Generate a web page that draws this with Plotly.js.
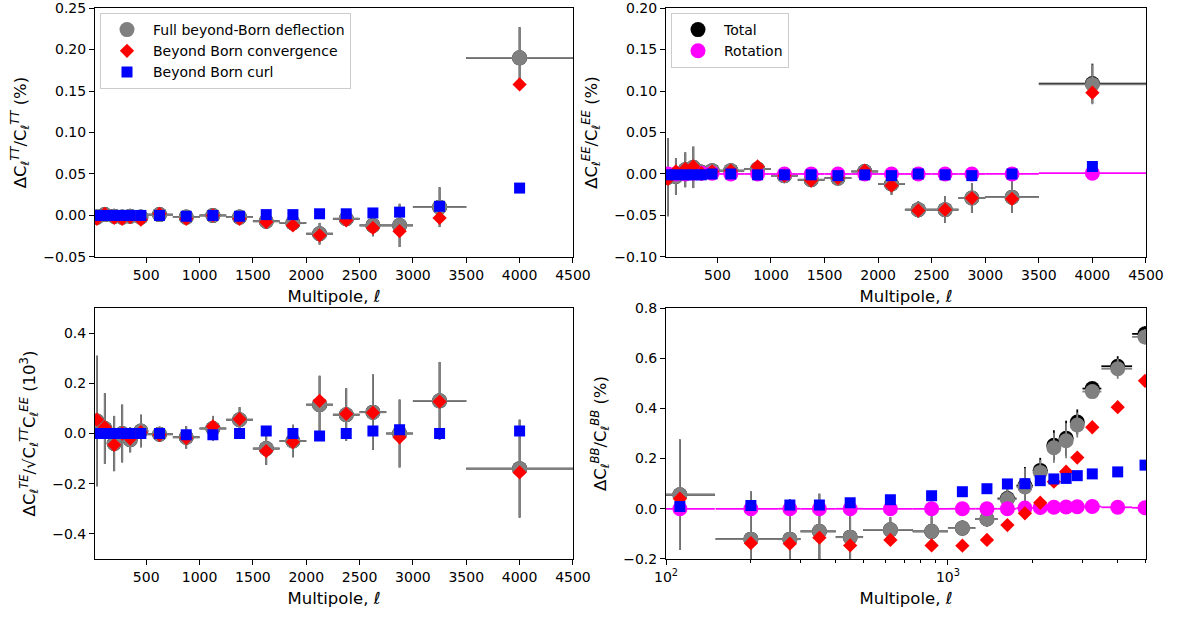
<!DOCTYPE html>
<html>
<head>
<meta charset="utf-8">
<script src="https://cdn.plot.ly/plotly-3.0.1.min.js"></script>
<style>html,body{margin:0;padding:0;background:#fff;}#chart{width:1180px;height:623px;}</style>
</head>
<body>
<div id="chart"></div>
<script>
// ---- bins (linear panels) ----
const ellLin = [38, 112, 200, 275, 350, 450, 625, 875, 1125, 1375, 1625, 1875, 2125, 2375, 2625, 2875, 3250, 4000];
const halfLin = [36, 37, 50, 25, 50, 50, 125, 125, 125, 125, 125, 125, 125, 125, 125, 125, 250, 500];
// ---- bins (BB, log panel) ----
const ellBB = [112, 200, 275, 350, 450, 625, 875, 1125, 1375, 1625, 1875, 2125, 2375, 2625, 2875, 3250, 4000, 5000];
const halfBB = [37, 50, 25, 50, 50, 125, 125, 125, 125, 125, 125, 125, 125, 125, 125, 250, 500, 500];

// ---- TT (%) ----
const ttTotal = [-0.002, 0.001, -0.001, -0.002, -0.001, -0.002, 0.001, -0.002, 0.000, -0.002, -0.007, -0.009, -0.022, -0.004, -0.012, -0.012, 0.010, 0.190];
const ttFull  = [-0.002, 0.001, -0.001, -0.002, -0.001, -0.002, 0.001, -0.002, 0.000, -0.002, -0.007, -0.009, -0.022, -0.004, -0.012, -0.012, 0.010, 0.190];
const ttErr   = [0.004, 0.003, 0.003, 0.003, 0.003, 0.003, 0.003, 0.003, 0.003, 0.004, 0.005, 0.008, 0.013, 0.008, 0.013, 0.026, 0.024, 0.037];
const ttConv  = [-0.004, 0.002, -0.003, -0.004, -0.002, -0.005, 0.002, -0.004, 0.000, -0.004, -0.008, -0.012, -0.024, -0.006, -0.015, -0.019, -0.003, 0.158];
const ttCurl  = [0.000, 0.000, 0.000, 0.000, 0.000, 0.000, 0.000, -0.001, 0.000, -0.001, 0.001, 0.001, 0.002, 0.002, 0.003, 0.004, 0.011, 0.033];

// ---- EE (%) ----
const eeTotal = [-0.004, -0.003, 0.005, 0.008, 0.002, 0.004, 0.004, 0.006, -0.002, -0.007, -0.005, 0.003, -0.012, -0.043, -0.043, -0.029, -0.028, 0.109];
const eeFull  = [-0.004, -0.003, 0.005, 0.008, 0.002, 0.004, 0.004, 0.006, -0.002, -0.007, -0.005, 0.003, -0.012, -0.043, -0.043, -0.029, -0.028, 0.108];
const eeErr   = [0.047, 0.022, 0.021, 0.025, 0.010, 0.008, 0.006, 0.006, 0.005, 0.006, 0.006, 0.007, 0.013, 0.010, 0.016, 0.018, 0.019, 0.024];
const eeConv  = [-0.006, 0.003, 0.006, 0.009, 0.001, 0.003, 0.004, 0.009, -0.002, -0.008, -0.005, 0.004, -0.014, -0.044, -0.043, -0.029, -0.030, 0.098];
const eeCurl  = [-0.001, -0.001, -0.001, -0.001, -0.001, 0.000, 0.000, -0.001, -0.001, -0.001, -0.002, -0.001, -0.002, 0.000, -0.001, -0.002, 0.000, 0.009];
const eeRot   = [0.000, 0.000, 0.000, 0.001, 0.001, 0.001, 0.000, 0.000, 0.000, 0.000, 0.000, 0.000, 0.000, 0.000, 0.000, 0.000, 0.000, 0.001];

// ---- TE (10^3) ----
const teTotal = [0.050, 0.020, -0.040, 0.000, -0.025, 0.010, -0.003, -0.015, 0.020, 0.055, -0.060, -0.030, 0.115, 0.075, 0.085, 0.000, 0.130, -0.140];
const teFull  = [0.050, 0.020, -0.040, 0.000, -0.025, 0.010, -0.003, -0.015, 0.020, 0.055, -0.060, -0.030, 0.115, 0.075, 0.085, 0.000, 0.130, -0.140];
const teErr   = [0.260, 0.140, 0.110, 0.115, 0.050, 0.065, 0.030, 0.045, 0.050, 0.050, 0.065, 0.065, 0.115, 0.105, 0.150, 0.135, 0.155, 0.195];
const teConv  = [0.055, 0.025, -0.045, 0.000, -0.020, 0.005, -0.005, -0.018, 0.028, 0.057, -0.070, -0.034, 0.130, 0.078, 0.083, -0.015, 0.127, -0.155];
const teCurl  = [0.000, 0.000, 0.000, 0.000, 0.000, 0.000, 0.000, -0.005, -0.005, 0.000, 0.010, 0.000, -0.010, 0.000, 0.010, 0.015, 0.000, 0.010];

// ---- BB (%) ----
const bbTotal = [0.056, -0.121, -0.121, -0.090, -0.113, -0.084, -0.090, -0.077, -0.041, 0.041, 0.092, 0.153, 0.253, 0.281, 0.346, 0.479, 0.568, 0.697];
const bbFull  = [0.056, -0.121, -0.121, -0.090, -0.113, -0.084, -0.090, -0.077, -0.041, 0.038, 0.087, 0.145, 0.243, 0.271, 0.334, 0.467, 0.558, 0.685];
const bbErr   = [0.220, 0.190, 0.160, 0.150, 0.100, 0.050, 0.060, 0.030, 0.030, 0.040, 0.075, 0.050, 0.060, 0.070, 0.050, 0.020, 0.040, 0.030];
const bbConv  = [0.040, -0.137, -0.139, -0.115, -0.146, -0.124, -0.146, -0.147, -0.124, -0.065, -0.018, 0.024, 0.108, 0.148, 0.204, 0.325, 0.405, 0.510];
const bbCurl  = [0.009, 0.013, 0.015, 0.015, 0.024, 0.036, 0.052, 0.068, 0.080, 0.099, 0.100, 0.112, 0.119, 0.121, 0.132, 0.139, 0.147, 0.174];
const bbRot   = [0.000, 0.000, 0.000, 0.000, 0.000, 0.000, 0.000, 0.000, 0.000, 0.000, 0.003, 0.005, 0.006, 0.007, 0.008, 0.009, 0.006, 0.004];

const GRAY = '#808080', RED = '#ff0000', BLUE = '#0000ff', MAG = '#ff00ff', BLACK = '#000000';
const SZ_C = 15, SZ_D = 11, SZ_S = 11;

function errs(arr, col) { return {type: 'data', array: arr, color: col, thickness: 1.8, width: 0}; }

function panel(xa, ya, ell, half, tot, full, err, conv, curl, rot, legendFull, legendTot) {
  const tr = [];
  tr.push({x: ell, y: tot, xaxis: xa, yaxis: ya, mode: 'markers', type: 'scatter', name: 'Total',
    marker: {symbol: 'circle', size: SZ_C, color: BLACK}, error_y: errs(err, BLACK), error_x: errs(half, BLACK),
    showlegend: !!legendTot, legend: 'legend2'});
  tr.push({x: ell, y: full, xaxis: xa, yaxis: ya, mode: 'markers', type: 'scatter', name: 'Full beyond-Born deflection',
    marker: {symbol: 'circle', size: SZ_C, color: GRAY}, error_y: errs(err, GRAY), error_x: errs(half, GRAY),
    showlegend: !!legendFull, legend: 'legend'});
  if (rot) {
    tr.push({x: ell, y: rot, xaxis: xa, yaxis: ya, mode: 'markers', type: 'scatter', name: 'Rotation',
      marker: {symbol: 'circle', size: SZ_C, color: MAG}, error_x: errs(half, MAG),
      showlegend: !!legendTot, legend: 'legend2'});
  }
  tr.push({x: ell, y: conv, xaxis: xa, yaxis: ya, mode: 'markers', type: 'scatter', name: 'Beyond Born convergence',
    marker: {symbol: 'diamond', size: SZ_D, color: RED}, showlegend: !!legendFull, legend: 'legend'});
  tr.push({x: ell, y: curl, xaxis: xa, yaxis: ya, mode: 'markers', type: 'scatter', name: 'Beyond Born curl',
    marker: {symbol: 'square', size: SZ_S, color: BLUE}, showlegend: !!legendFull, legend: 'legend'});
  return tr;
}

const data = [].concat(
  panel('x', 'y', ellLin, halfLin, ttTotal, ttFull, ttErr, ttConv, ttCurl, null, true, false),
  panel('x2', 'y2', ellLin, halfLin, eeTotal, eeFull, eeErr, eeConv, eeCurl, eeRot, false, true),
  panel('x3', 'y3', ellLin, halfLin, teTotal, teFull, teErr, teConv, teCurl, null, false, false),
  panel('x4', 'y4', ellBB, halfBB, bbTotal, bbFull, bbErr, bbConv, bbCurl, bbRot, false, false)
);

const FONT = 'DejaVu Sans, sans-serif';
const tickFont = {family: FONT, size: 14, color: '#000'};
const titleFont = {family: FONT, size: 16.5, color: '#000'};
const XL = [95 / 1180, 573 / 1180], XR = [666 / 1180, 1146 / 1180];
const YT = [1 - 257 / 623, 1 - 8 / 623], YB = [1 - 559 / 623, 1 - 308 / 623];

function ax(extra) {
  return Object.assign({
    showline: true, linecolor: '#000', linewidth: 1, mirror: true,
    ticks: 'outside', ticklen: 5, tickwidth: 1, tickcolor: '#000',
    showgrid: false, zeroline: false, tickfont: tickFont, ticklabeloverflow: 'allow'
  }, extra);
}
const xTitle = {text: 'Multipole, <i>ℓ</i>', font: titleFont, standoff: 8};
const linX = {range: [20, 4500.5], tickmode: 'linear', tick0: 500, dtick: 500, title: xTitle};

const layout = {
  width: 1180, height: 623,
  margin: {l: 0, r: 0, t: 0, b: 0},
  paper_bgcolor: '#fff', plot_bgcolor: '#fff',
  font: {family: FONT, color: '#000'},
  xaxis: ax(Object.assign({domain: XL, anchor: 'y'}, linX)),
  yaxis: ax({domain: YT, anchor: 'x', range: [-0.0501, 0.2501], dtick: 0.05, tick0: 0, tickformat: '.2f',
    title: {text: 'ΔC<sub><i>ℓ</i></sub><sup><i>TT</i></sup>/C<sub><i>ℓ</i></sub><sup><i>TT</i></sup> (%)', font: titleFont, standoff: 12}}),
  xaxis2: ax(Object.assign({domain: XR, anchor: 'y2'}, linX)),
  yaxis2: ax({domain: YT, anchor: 'x2', range: [-0.1001, 0.2001], dtick: 0.05, tick0: 0, tickformat: '.2f',
    title: {text: 'ΔC<sub><i>ℓ</i></sub><sup><i>EE</i></sup>/C<sub><i>ℓ</i></sub><sup><i>EE</i></sup> (%)', font: titleFont, standoff: 12}}),
  xaxis3: ax(Object.assign({domain: XL, anchor: 'y3'}, linX)),
  yaxis3: ax({domain: YB, anchor: 'x3', range: [-0.5, 0.5], dtick: 0.2, tick0: 0, tickformat: '.1f',
    title: {text: 'ΔC<sub><i>ℓ</i></sub><sup><i>TE</i></sup>/√C<sub><i>ℓ</i></sub><sup><i>TT</i></sup>C<sub><i>ℓ</i></sub><sup><i>EE</i></sup> (10<sup>3</sup>)', font: titleFont, standoff: 12}}),
  xaxis4: ax({domain: XR, anchor: 'y4', type: 'log', range: [2, Math.log10(5040)],
    tickmode: 'array', tickvals: [100, 1000], ticktext: ['10<sup>2</sup>', '10<sup>3</sup>'],
    minor: {tickmode: 'array', tickvals: [200, 300, 400, 500, 600, 700, 800, 900, 2000, 3000, 4000, 5000], ticks: 'outside', ticklen: 3, tickcolor: '#000', showgrid: false},
    title: xTitle}),
  yaxis4: ax({domain: YB, anchor: 'x4', range: [-0.2001, 0.8001], dtick: 0.2, tick0: 0, tickformat: '.1f',
    title: {text: 'ΔC<sub><i>ℓ</i></sub><sup><i>BB</i></sup>/C<sub><i>ℓ</i></sub><sup><i>BB</i></sup> (%)', font: titleFont, standoff: 12}}),
  legend: {x: 100 / 1180, y: 1 - 13 / 623, xanchor: 'left', yanchor: 'top', bgcolor: 'rgba(255,255,255,0.9)',
    bordercolor: '#cccccc', borderwidth: 1, font: {family: FONT, size: 14, color: '#000'}, tracegroupgap: 0, itemwidth: 42},
  legend2: {x: 671 / 1180, y: 1 - 13 / 623, xanchor: 'left', yanchor: 'top', bgcolor: 'rgba(255,255,255,0.9)',
    bordercolor: '#cccccc', borderwidth: 1, font: {family: FONT, size: 14, color: '#000'}, tracegroupgap: 0, itemwidth: 42},
  showlegend: true
};

Plotly.newPlot('chart', data, layout, {displayModeBar: false, staticPlot: true});
</script>
</body>
</html>
